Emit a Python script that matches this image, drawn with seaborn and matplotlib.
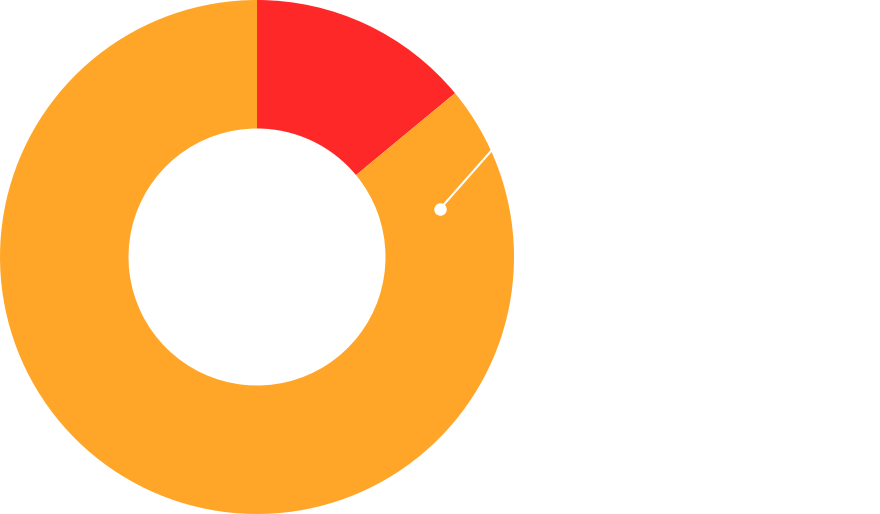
import matplotlib
matplotlib.use("Agg")
import matplotlib.pyplot as plt
import seaborn as sns

# slice shares (red starts at 12 o'clock, clockwise)
shares = [14, 86]
slice_colors = ["#FF2828", "#FFA629"]

# leader line of the hidden label (start on the outer rim, end inside the ring)
leader_x = [0.914, 0.712]
leader_y = [0.416, 0.187]

sns.set_theme(style="white")

fig = plt.figure(figsize=(8.8, 5.14), dpi=100)
ax = fig.add_axes([0, 0, 514 / 880, 1])

ax.pie(shares, colors=slice_colors, startangle=90, counterclock=False,
       radius=1.0, wedgeprops=dict(width=0.5, linewidth=0))

ax.plot(leader_x, leader_y, color="white", linewidth=1.5, solid_capstyle="butt")
ax.plot(leader_x[-1], leader_y[-1], "o", color="white", markersize=9, markeredgewidth=0)

ax.set_xlim(-1, 1)
ax.set_ylim(-1, 1)
ax.set_aspect("equal")
ax.axis("off")

fig.savefig("out.png", dpi=100, facecolor="white")
